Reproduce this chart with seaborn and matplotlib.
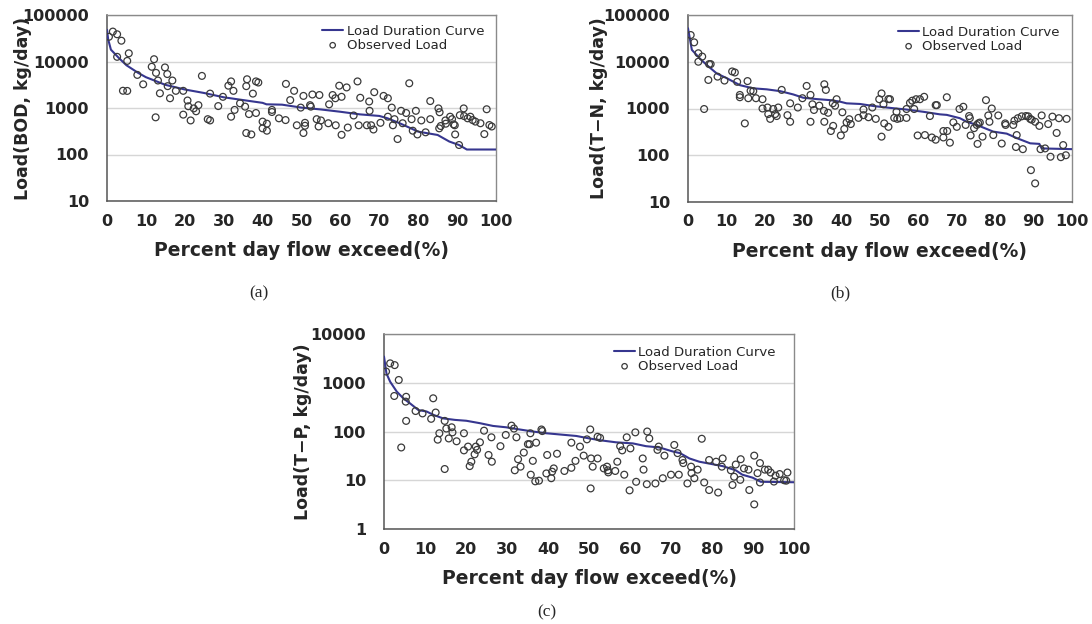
import matplotlib
matplotlib.use('Agg')
import matplotlib.pyplot as plt
import matplotlib.ticker as mticker
import pandas as pd
import seaborn as sns

sns.set_style('white')
plt.rcParams['font.family'] = ['DejaVu Sans']

# ---- panel (a): BOD ----
bod_curve_x = [0, 0.3, 1, 3, 5, 8, 10, 15, 20, 25, 30, 35, 40, 41, 45, 50, 55, 60, 65,
               70, 72, 75, 80, 85, 88, 90.5, 92.5, 100]
bod_curve_y = [48000, 30000, 18000, 12000, 8300, 5700, 4600, 3150, 2500, 2100, 1700, 1480,
               1290, 1200, 1180, 1020, 930, 830, 730, 675, 605, 480, 310, 263, 190, 160, 128, 128]
bod_obs_x = [0.5, 1.5, 2.6, 3.7, 2.6, 4.1, 5.2, 5.6, 5.2, 7.8, 9.3, 11.5, 12.1, 12.6, 13.1,
             13.6, 14.9, 15.5, 15.6, 12.5, 16.2, 16.8, 17.7, 19.6, 19.6, 20.7, 20.9, 21.5,
             22.3, 22.9, 23.5, 24.4, 25.9, 26.5, 26.5, 28.6, 29.8, 31.2, 31.9, 32.5, 31.9,
             32.8, 34.2, 35.5, 35.8, 36.0, 36.5, 35.8, 37.1, 37.5, 38.3, 38.3, 38.9, 40.0,
             40.0, 41.1, 41.1, 42.4, 42.4, 44.2, 45.9, 46.0, 47.1, 48.1, 48.8, 49.8, 50.5,
             50.5, 50.9, 50.9, 52.2, 52.4, 52.8, 53.9, 54.6, 54.4, 55.0, 57.1, 56.9, 58.0,
             58.7, 58.8, 59.7, 60.3, 60.3, 61.6, 61.9, 63.4, 64.4, 64.7, 65.1, 66.8, 67.4,
             67.5, 67.9, 68.5, 68.7, 70.3, 71.1, 72.2, 72.2, 73.2, 73.5, 73.9, 74.7, 75.6,
             76.0, 76.9, 77.7, 78.3, 78.6, 79.4, 79.8, 80.8, 81.9, 83.1, 83.1, 85.2, 85.5,
             85.4, 85.8, 87.0, 87.1, 88.2, 88.7, 89.1, 89.4, 89.5, 90.5, 90.7, 91.7, 91.8,
             92.7, 93.4, 94.0, 94.7, 96.0, 97.6, 97.0, 98.3, 98.9]
bod_obs_y = [34000, 44000, 38500, 28000, 12600, 2350, 2330, 15000, 10300, 5150, 3230, 7700,
             11200, 5700, 3900, 2070, 7450, 5370, 2950, 630, 1620, 3900, 2340, 2340, 720,
             1450, 1090, 540, 980, 850, 1150, 4900, 575, 540, 2040, 1100, 1740, 3020, 3730,
             2340, 650, 910, 1260, 1070, 2950, 4150, 740, 290, 270, 2040, 780, 3730, 3530,
             510, 365, 460, 325, 910, 820, 600, 550, 3300, 1480, 2340, 425, 1020, 1820, 290,
             480, 415, 1150, 1070, 1950, 575, 1900, 400, 540, 1200, 470, 1900, 1620, 425,
             3020, 1740, 265, 2770, 380, 690, 3730, 425, 1660, 425, 1380, 870, 425, 345,
             2190, 480, 1820, 1620, 650, 1020, 425, 575, 215, 870, 470, 780, 3400, 575, 325,
             870, 270, 540, 300, 575, 1410, 980, 810, 365, 410, 540, 460, 650, 575, 445, 425,
             270, 160, 700, 980, 670, 600, 650, 550, 510, 470, 940, 275, 430, 400]

# ---- panel (b): T-N ----
tn_curve_x = [0, 1, 3.1, 4.9, 7.5, 10.1, 13.5, 17, 20.5, 24, 27.4, 30, 33.5, 37, 39.6, 41.3,
              44.8, 48.3, 51.7, 56.9, 61.3, 65.6, 67.4, 70.8, 72.6, 75.2, 79.5, 83, 85.6,
              89.1, 91.5, 92.1, 100]
tn_curve_y = [52000, 18000, 11700, 8500, 5600, 4450, 3160, 2700, 2570, 2350, 2000, 1700, 1590,
              1510, 1400, 1290, 1250, 1130, 1050, 950, 850, 750, 730, 620, 520, 445, 320, 290,
              233, 180, 175, 140, 135]
tn_obs_x = [0.7, 1.6, 2.7, 3.7, 2.7, 5.5, 5.9, 5.3, 4.2, 7.7, 9.5, 11.5, 12.2, 12.8, 15.5,
            13.5, 13.5, 14.8, 15.7, 16.3, 17.0, 17.7, 19.4, 19.4, 20.7, 20.9, 21.4, 22.2,
            22.7, 23.1, 23.5, 24.4, 25.9, 26.6, 26.6, 28.6, 29.8, 30.9, 31.9, 31.9, 32.4,
            32.8, 34.2, 35.5, 35.9, 35.4, 35.5, 36.5, 37.2, 37.8, 37.7, 38.3, 38.7, 39.8,
            40.2, 40.7, 41.3, 42.0, 42.4, 44.4, 45.7, 45.7, 47.0, 48.0, 48.9, 49.8, 50.4,
            50.9, 50.4, 51.1, 52.2, 52.2, 52.6, 53.7, 54.3, 54.5, 55.2, 56.9, 56.9, 57.8,
            58.4, 58.9, 59.4, 59.8, 60.4, 61.5, 61.7, 63.0, 63.5, 64.5, 64.8, 64.5, 66.5,
            67.4, 66.5, 67.5, 68.2, 69.1, 70.0, 70.7, 71.7, 72.3, 73.2, 73.4, 73.6, 74.5,
            75.2, 75.6, 76.0, 75.4, 76.7, 77.6, 78.2, 78.5, 79.1, 79.5, 80.8, 81.7, 82.6,
            82.7, 84.7, 85.0, 85.4, 85.9, 85.6, 87.2, 86.9, 88.0, 88.6, 89.1, 89.5, 89.3,
            90.4, 90.4, 91.5, 91.8, 92.1, 93.0, 93.8, 94.4, 94.9, 96.0, 96.6, 97.1, 97.7,
            98.4, 98.6]
tn_obs_y = [37300, 26000, 15200, 12900, 10000, 8900, 8900, 4080, 975, 4800, 3960, 6200, 5900,
            3720, 3860, 1950, 1740, 480, 1660, 2400, 2350, 1660, 1580, 1000, 1050, 760, 600,
            975, 760, 690, 1050, 2500, 720, 520, 1290, 1050, 1660, 3040, 1950, 520, 1230, 930,
            1150, 3300, 2500, 890, 520, 810, 330, 425, 1290, 1150, 1580, 265, 830, 365, 505,
            590, 465, 630, 950, 720, 650, 1050, 600, 1580, 2100, 1230, 250, 480, 405, 1590,
            1580, 630, 850, 600, 620, 630, 975, 1320, 1470, 975, 1580, 265, 1580, 1780, 270,
            690, 240, 1180, 1180, 215, 330, 1740, 240, 330, 186, 505, 405, 975, 1090, 445,
            690, 620, 265, 380, 445, 480, 500, 175, 250, 1510, 710, 520, 1000, 270, 710, 178,
            480, 445, 445, 550, 150, 620, 270, 135, 680, 690, 680, 600, 575, 48, 25, 520, 425,
            135, 710, 140, 465, 93, 670, 300, 620, 91, 165, 100, 600]

# ---- panel (c): T-P ----
tp_curve_x = [0, 0.6, 1.5, 3.1, 4.7, 6.3, 8.4, 10.4, 12, 14.4, 17.3, 20.1, 23.4, 26.6, 29.8,
              33.1, 36.3, 39.6, 42.8, 46.9, 50.1, 53.4, 56.6, 60.7, 63.9, 67.2, 70.4, 72.2,
              74.5, 76.9, 79.3, 82.6, 85.8, 87.4, 89.9, 91.9, 100]
tp_curve_y = [3450, 1550, 1050, 660, 480, 380, 275, 257, 220, 186, 173, 166, 148, 130, 122,
              110, 100, 92, 87, 81, 72, 65, 60, 57, 50, 47, 39, 36, 28, 24, 22, 19.5, 16, 13,
              11.3, 9.3, 9.1]
tp_obs_x = [0.5, 1.5, 2.6, 2.5, 3.6, 4.2, 5.4, 5.3, 5.4, 7.7, 9.4, 11.5, 12.0, 12.6, 13.1,
            13.5, 14.8, 14.8, 15.2, 15.8, 16.5, 16.7, 17.7, 19.5, 19.5, 20.5, 20.9, 21.3,
            22.1, 22.4, 22.7, 23.4, 24.4, 25.5, 26.3, 26.2, 28.4, 29.7, 31.1, 31.7, 32.3,
            31.9, 32.7, 33.3, 34.1, 35.1, 35.5, 35.7, 35.8, 36.3, 36.9, 37.8, 37.1, 38.4,
            38.6, 39.6, 39.8, 40.8, 41.0, 41.4, 42.2, 44.0, 45.7, 45.7, 46.7, 47.8, 48.7,
            49.5, 50.3, 50.5, 50.4, 50.9, 52.1, 52.1, 52.7, 53.6, 54.4, 54.6, 54.7, 56.4,
            56.9, 57.6, 58.1, 58.6, 59.2, 60.1, 59.9, 61.3, 61.5, 63.1, 63.3, 64.2, 64.7,
            64.1, 66.2, 66.7, 67.0, 68.0, 68.4, 70.0, 70.8, 71.6, 71.9, 72.8, 73.0, 74.0,
            74.9, 75.0, 75.7, 76.5, 77.5, 78.1, 79.3, 79.3, 81.0, 81.5, 82.6, 82.4, 84.6,
            85.0, 85.4, 85.8, 87.0, 86.9, 87.8, 88.9, 89.1, 90.3, 91.1, 90.3, 91.7, 91.7,
            92.9, 93.7, 94.3, 95.5, 96.5, 95.1, 97.6, 98.1, 98.4]
tp_obs_y = [1700, 2500, 2300, 535, 1140, 47, 515, 410, 165, 263, 235, 182, 480, 245, 68, 92,
            165, 17, 115, 72, 122, 96, 63, 92, 41, 49, 19.5, 24, 34, 49, 42, 60, 104, 33, 24,
            76, 50, 85, 132, 115, 76, 16, 27, 19, 37, 55, 55, 92, 13, 25, 9.5, 9.8, 59, 110,
            102, 13.8, 33, 11, 15, 17.5, 35, 15.5, 18, 59, 25, 49, 32, 69, 110, 28, 6.8, 19,
            28, 78, 74, 17.5, 19, 16, 14.5, 15.5, 24, 50, 41, 13, 76, 45, 6.2, 96, 9.3, 28,
            16.5, 100, 72, 8.3, 8.6, 42, 49, 11, 32, 13, 53, 36, 13, 26, 22.5, 8.6, 19, 14,
            11, 16.5, 71, 9, 26, 6.3, 24, 5.6, 28, 19, 16, 8, 11.8, 21, 27, 10.2, 17.5, 16.5,
            6.3, 32, 14, 3.2, 22.5, 9, 16.5, 16.5, 14.4, 12.4, 13.4, 9.4, 10, 9.8, 14.4]

x_ticks = list(range(0, 101, 10))
LINE_COLOR = '#36368f'
W, H = 1092, 624


def draw_panel(rect, curve_x, curve_y, obs_x, obs_y, ylabel, y_ticks,
               ylabel_x, xlabel_y, legend_xy):
    ax = fig.add_axes(rect)
    ax.set_yscale('log')
    curve = pd.DataFrame({'x': curve_x, 'y': curve_y})
    obs = pd.DataFrame({'x': obs_x, 'y': obs_y})
    sns.lineplot(data=curve, x='x', y='y', ax=ax, color=LINE_COLOR, lw=1.5,
                 estimator=None, sort=False, label='Load Duration Curve', zorder=3)
    sns.scatterplot(data=obs, x='x', y='y', ax=ax, marker='o', s=24,
                    facecolor='none', edgecolor='#3a3a3a', linewidth=0.9,
                    label='Observed Load', zorder=4)
    ax.set_xlim(0, 100)
    ax.set_ylim(y_ticks[0], y_ticks[-1])
    ax.set_xticks(x_ticks)
    ax.set_xticklabels([str(t) for t in x_ticks], fontsize=11.5, fontweight='bold')
    ax.set_yticks(y_ticks)
    ax.set_yticklabels([str(t) for t in y_ticks], fontsize=11.5, fontweight='bold')
    ax.yaxis.set_minor_locator(mticker.NullLocator())
    ax.tick_params(axis='x', direction='out', length=5, width=1, color='#555555', pad=4)
    ax.tick_params(axis='y', direction='out', length=6, width=1, color='#555555', pad=7)
    ax.yaxis.grid(True, color='#d6d6d6', lw=1)
    ax.xaxis.grid(False)
    for side in ['left', 'bottom']:
        ax.spines[side].set_color('#555555')
        ax.spines[side].set_linewidth(1.1)
    for side in ['top', 'right']:
        ax.spines[side].set_color('#8a8a8a')
        ax.spines[side].set_linewidth(1.0)
    ax.set_xlabel('Percent day flow exceed(%)', fontsize=13.5, fontweight='bold')
    ax.set_ylabel(ylabel, fontsize=12.5, fontweight='bold')
    ax.xaxis.set_label_coords(0.5, xlabel_y)
    ax.yaxis.set_label_coords(ylabel_x, 0.5)
    ax.legend(loc='upper left', bbox_to_anchor=legend_xy, frameon=False, fontsize=9.5,
              handlelength=1.6, handletextpad=0.25, labelspacing=0.05, borderpad=0,
              borderaxespad=0, markerscale=0.8)
    return ax


fig = plt.figure(figsize=(W / 100, H / 100), dpi=100)

draw_panel([107 / W, 1 - 201 / H, 389 / W, 186 / H], bod_curve_x, bod_curve_y,
           bod_obs_x, bod_obs_y, 'Load(BOD, kg/day)', [10, 100, 1000, 10000, 100000],
           -0.193, -0.215, (0.553, 0.946))
draw_panel([688 / W, 1 - 202 / H, 384 / W, 187 / H], tn_curve_x, tn_curve_y,
           tn_obs_x, tn_obs_y, 'Load(T\u2212N, kg/day)', [10, 100, 1000, 10000, 100000],
           -0.208, -0.215, (0.547, 0.941))
draw_panel([384 / W, 1 - 529 / H, 410 / W, 195 / H], tp_curve_x, tp_curve_y,
           tp_obs_x, tp_obs_y, 'Load(T\u2212P, kg/day)', [1, 10, 100, 1000, 10000],
           -0.176, -0.205, (0.561, 0.938))

for label, px, py in [('(a)', 259, 293), ('(b)', 840, 293), ('(c)', 547, 612)]:
    fig.text(px / W, 1 - py / H, label, family='Liberation Serif', fontsize=12.5,
             ha='center', va='center')

fig.savefig('out.png', dpi=100)
